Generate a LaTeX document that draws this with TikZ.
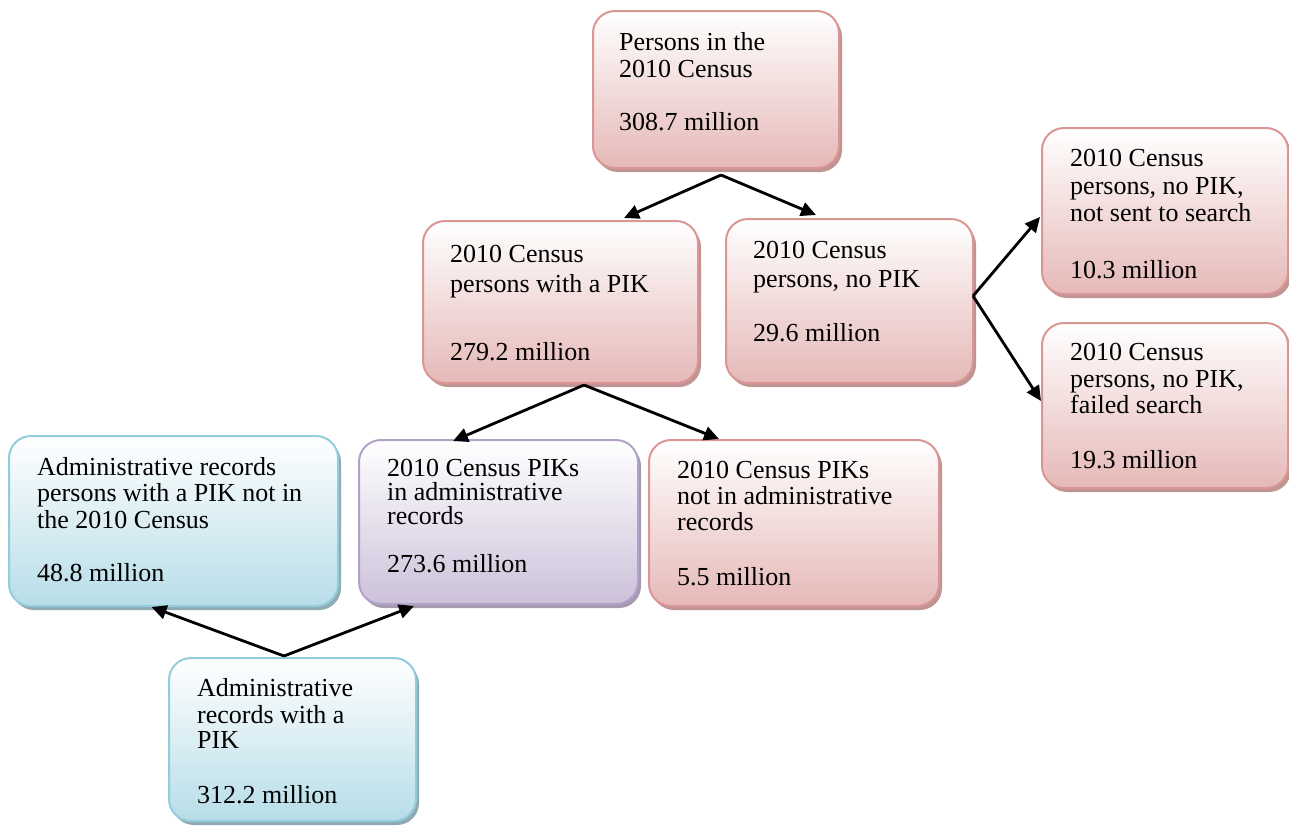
\documentclass[tikz,border=0pt]{standalone}
\usepackage{fontspec}
\setmainfont{Liberation Serif}
\usetikzlibrary{calc,shadows,arrows.meta}
\definecolor{pinkline}{HTML}{D99694}
\definecolor{pinkfill}{HTML}{E5B9B7}
\definecolor{pinkshadow}{HTML}{BF9493}
\definecolor{blueline}{HTML}{93CDDD}
\definecolor{bluefill}{HTML}{B7DDE8}
\definecolor{blueshadow}{HTML}{8FAAB2}
\definecolor{purpline}{HTML}{B3A2C7}
\definecolor{purpfill}{HTML}{CCC1DA}
\definecolor{purpshadow}{HTML}{A49AB0}
\tikzset{
  box/.style={draw, rounded corners=22pt, line width=2pt, anchor=north west, inner sep=0pt},
  pinkbox/.style={box, draw=pinkline, top color=white, bottom color=pinkfill,
    drop shadow={shadow xshift=3pt, shadow yshift=-4pt, fill=pinkshadow, opacity=1}},
  bluebox/.style={box, draw=blueline, top color=white, bottom color=bluefill,
    drop shadow={shadow xshift=3pt, shadow yshift=-4pt, fill=blueshadow, opacity=1}},
  purpbox/.style={box, draw=purpline, top color=white, bottom color=purpfill,
    drop shadow={shadow xshift=3pt, shadow yshift=-4pt, fill=purpshadow, opacity=1}},
  txt/.style={anchor=base west, align=left, inner sep=0pt, font=\fontsize{26}{27}\selectfont},
  arr/.style={line width=2.8pt, -{Triangle[length=15pt,width=14pt]}}
}
\begin{document}
\begin{tikzpicture}[x=1pt,y=-1pt]
\useasboundingbox (0,0) rectangle (1289,825);
% boxes
\node[pinkbox, minimum width=246pt, minimum height=157pt] (b1) at (592,10) {};
\node[pinkbox, minimum width=275pt, minimum height=162pt] (b2) at (422,220) {};
\node[pinkbox, minimum width=247pt, minimum height=164pt] (b3) at (725,218) {};
\node[pinkbox, minimum width=246pt, minimum height=166pt] (b4) at (1041,127) {};
\node[pinkbox, minimum width=246pt, minimum height=165pt] (b5) at (1041,322) {};
\node[bluebox, minimum width=329pt, minimum height=170pt] (b6) at (8,435) {};
\node[purpbox, minimum width=279pt, minimum height=164pt] (b7) at (358,439) {};
\node[pinkbox, minimum width=290pt, minimum height=166pt] (b8) at (648,439) {};
\node[bluebox, minimum width=247pt, minimum height=163pt] (b9) at (168,657) {};
% texts (anchored on the baseline of the last line)
\node[txt] (t1) at ($(b1.north west)+(27,120)$) {Persons in the\\2010 Census\\[26pt]308.7 million};
\node[txt] (t2) at ($(b2.north west)+(28,140)$) {2010 Census\\[3pt]persons with a PIK\\[41pt]279.2 million};
\node[txt] (t3) at ($(b3.north west)+(28,123)$) {2010 Census\\[2pt]persons, no PIK\\[27pt]29.6 million};
\node[txt] (t4) at ($(b4.north west)+(29,151)$) {2010 Census\\[1pt]persons, no PIK,\\not sent to search\\[30pt]10.3 million};
\node[txt] (t5) at ($(b5.north west)+(29,146)$) {2010 Census\\persons, no PIK,\\[-1pt]failed search\\[28pt]19.3 million};
\node[txt] (t6) at ($(b6.north west)+(29,146)$) {Administrative records\\[-1pt]persons with a PIK not in\\the 2010 Census\\[26pt]48.8 million};
\node[txt] (t7) at ($(b7.north west)+(29,133)$) {2010 Census PIKs\\[-3pt]in administrative\\[-3pt]records\\[21pt]273.6 million};
\node[txt] (t8) at ($(b8.north west)+(29,146)$) {2010 Census PIKs\\[-1pt]not in administrative\\[-1pt]records\\[28pt]5.5 million};
\node[txt] (t9) at ($(b9.north west)+(29,146)$) {Administrative\\records with a\\[-2pt]PIK\\[28pt]312.2 million};
% junctions
\coordinate (j1) at ($(b1.south)+(5,6)$);
\coordinate (j2) at ($(b2.south)+(23.5,1)$);
\coordinate (j3) at ($(b3.east)+(-1,-5)$);
\coordinate (j4) at ($(b9.north)+(-8.5,-1)$);
% arrows
\draw[arr] (j1) -- ($(b2.north)+(63.5,-2)$);
\draw[arr] (j1) -- ($(b3.north)+(-33.5,-3)$);
\draw[arr] (j2) -- ($(b7.north)+(-45.5,2)$);
\draw[arr] (j2) -- ($(b8.north)+(-75,0)$);
\draw[arr] (j3) -- ($(b4.west)+(-1,6)$);
\draw[arr] (j3) -- ($(b5.west)+(0,-4.5)$);
\draw[arr] (j4) -- ($(b6.south)+(-22,0)$);
\draw[arr] (j4) -- ($(b7.south)+(-84.5,1)$);
\end{tikzpicture}
\end{document}
